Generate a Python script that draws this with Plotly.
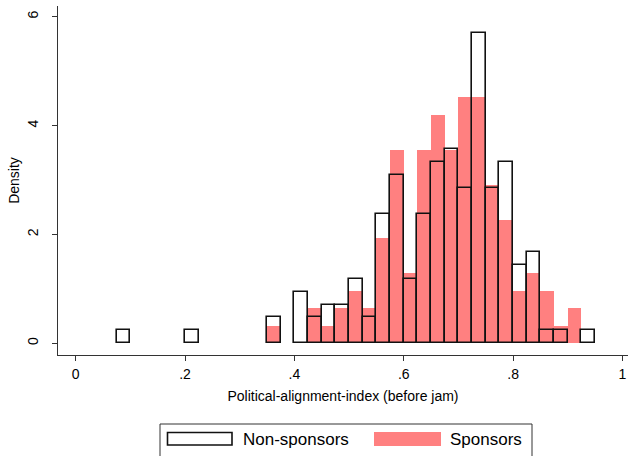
import plotly.graph_objects as go

# Histogram bins (width 0.025) of the political-alignment index
bin_width = 0.025
bin_centers = [0.0875, 0.1125, 0.1375, 0.1625, 0.1875, 0.2125, 0.2375, 0.2625,
               0.2875, 0.3125, 0.3375, 0.3625, 0.3875, 0.4125, 0.4375, 0.4625,
               0.4875, 0.5125, 0.5375, 0.5625, 0.5875, 0.6125, 0.6375, 0.6625,
               0.6875, 0.7125, 0.7375, 0.7625, 0.7875, 0.8125, 0.8375, 0.8625,
               0.8875, 0.9125, 0.9375]

# Density per bin (None = empty bin)
non_sponsors = [0.24, None, None, None, None, 0.24, None, None, None, None, None,
                0.48, None, 0.95, 0.48, 0.71, 0.71, 1.19, 0.48, 2.38, 3.10, 1.19,
                2.38, 3.33, 3.57, 2.86, 5.71, 2.86, 3.33, 1.43, 1.67, 0.24, 0.24,
                None, 0.24]
sponsors = [None, None, None, None, None, None, None, None, None, None, None,
            0.32, None, None, 0.65, 0.32, 0.65, 0.97, 0.65, 1.94, 3.55, 1.29,
            3.55, 4.19, 3.55, 4.52, 4.52, 2.90, 2.26, 0.97, 1.29, 0.97, 0.32,
            0.65, None]

x_ticks = [0, 0.2, 0.4, 0.6, 0.8, 1]
x_tick_labels = ["0", ".2", ".4", ".6", ".8", "1"]
y_ticks = [0, 2, 4, 6]
y_tick_labels = ["0", "2", "4", "6"]

legend_names = ["Non-sponsors", "Sponsors"]
pink = "#FF8080"
font_family = "Liberation Sans, Arial, sans-serif"

fig = go.Figure()
fig.add_trace(go.Bar(
    x=bin_centers, y=sponsors, width=bin_width, name=legend_names[1],
    marker=dict(color=pink, line=dict(width=0)), showlegend=False,
))
fig.add_trace(go.Bar(
    x=bin_centers, y=non_sponsors, width=bin_width, name=legend_names[0],
    marker=dict(color="rgba(0,0,0,0)", line=dict(color="#111111", width=1.6)),
    showlegend=False,
))

# Plot-area geometry in pixels (used to place the hand-drawn legend)
W, H = 628, 456
L, R, T, B = 58, 0, 6, 101
pw, ph = W - L - R, H - T - B


def px_x(p):
    return (p - L) / pw


def px_y(p):
    return (H - B - p) / ph


shapes = [
    # legend frame
    dict(type="rect", xref="paper", yref="paper",
         x0=px_x(160), x1=px_x(532), y0=px_y(470), y1=px_y(424),
         line=dict(color="#333333", width=1), fillcolor="white", layer="above"),
    # legend keys
    dict(type="rect", xref="paper", yref="paper",
         x0=px_x(167.5), x1=px_x(232), y0=px_y(445), y1=px_y(432.5),
         line=dict(color="#111111", width=1.6), fillcolor="white", layer="above"),
    dict(type="rect", xref="paper", yref="paper",
         x0=px_x(374), x1=px_x(441), y0=px_y(446), y1=px_y(432),
         line=dict(width=0), fillcolor=pink, layer="above"),
]
annotations = [
    dict(text=legend_names[0], xref="paper", yref="paper", x=px_x(241), y=px_y(439),
         xanchor="left", yanchor="middle", showarrow=False,
         font=dict(family=font_family, size=17, color="black")),
    dict(text=legend_names[1], xref="paper", yref="paper", x=px_x(448), y=px_y(439),
         xanchor="left", yanchor="middle", showarrow=False,
         font=dict(family=font_family, size=17, color="black")),
]

fig.update_layout(
    width=W, height=H,
    margin=dict(l=L, r=R, t=T, b=B, pad=0),
    paper_bgcolor="white", plot_bgcolor="white",
    barmode="overlay", bargap=0,
    font=dict(family=font_family, size=14, color="black"),
    shapes=shapes, annotations=annotations,
    xaxis=dict(
        range=[-0.0324, 1.0101], tickvals=x_ticks, ticktext=x_tick_labels,
        showgrid=False, zeroline=False, showline=True, linecolor="#333333", linewidth=1,
        ticks="outside", ticklen=5, tickcolor="#333333", ticklabelstandoff=1,
        tickfont=dict(size=14),
        title=dict(text="Political-alignment-index (before jam)", standoff=10,
                   font=dict(size=14)),
    ),
    yaxis=dict(
        range=[-0.215, 6.197], tickvals=y_ticks, ticktext=y_tick_labels,
        showgrid=False, zeroline=False, showline=True, linecolor="#333333", linewidth=1,
        ticks="outside", ticklen=5, tickcolor="#333333", tickangle=-90,
        ticklabelstandoff=8, tickfont=dict(size=14),
        title=dict(text="Density", standoff=2, font=dict(size=14)),
    ),
)

fig.write_html("out.html")
